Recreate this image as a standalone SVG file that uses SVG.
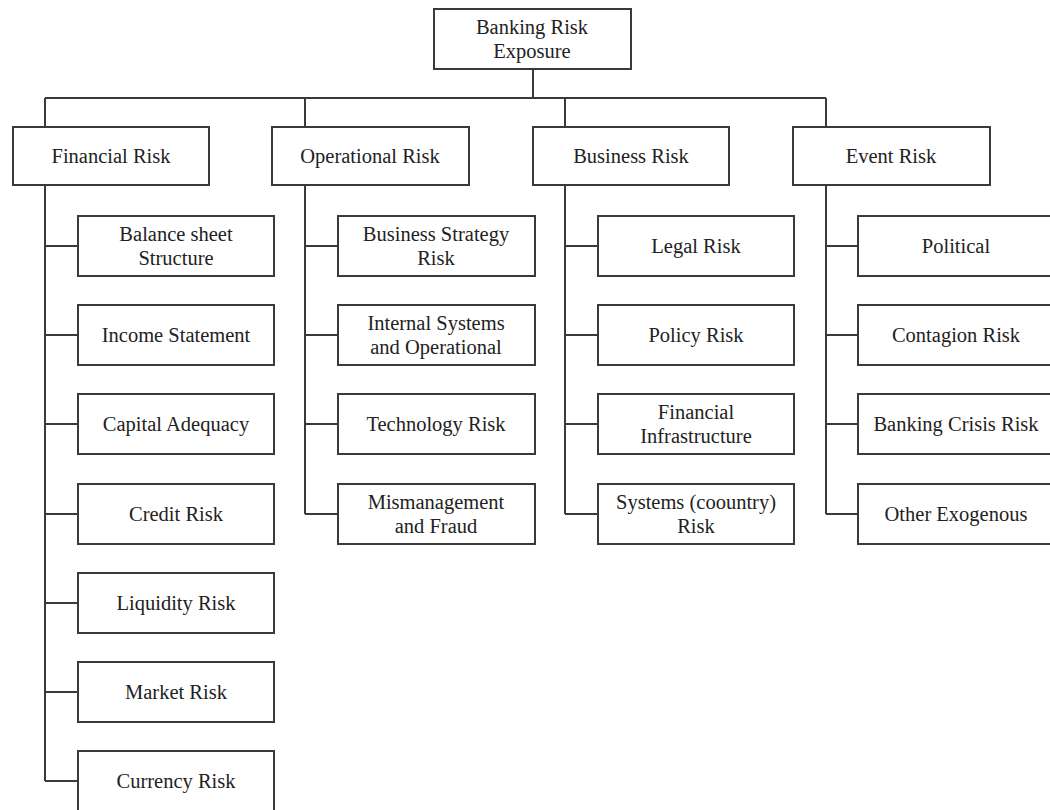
<svg xmlns="http://www.w3.org/2000/svg" width="1050" height="810" viewBox="0 0 1050 810">
<style>
.b{fill:#fff;stroke:#3a3a3a;stroke-width:2}
.c{fill:none;stroke:#3a3a3a;stroke-width:2}
text{font-family:"Liberation Serif","Times New Roman",serif;font-size:20.5px;fill:#222;text-anchor:middle}
</style>
<rect width="1050" height="810" fill="#fff"/>
<g id="connectors" class="c">
<path d="M533,69V98M45,98H826M45,98V127M305,98V127M565,98V127M826,98V127"/>
<path d="M45,185V781M45,246H78M45,335H78M45,424H78M45,514H78M45,603H78M45,692H78M45,781H78"/>
<path d="M305,185V514M305,246H338M305,335H338M305,424H338M305,514H338"/>
<path d="M565,185V514M565,246H598M565,335H598M565,424H598M565,514H598"/>
<path d="M826,185V514M826,246H858M826,335H858M826,424H858M826,514H858"/>
</g>
<g id="root"><rect class="b" x="434" y="9" width="197" height="60"/><text x="532" y="34">Banking Risk</text><text x="532" y="58">Exposure</text></g>
<g id="financial"><rect class="b" x="13" y="127" width="196" height="58"/><text x="111" y="163">Financial Risk</text></g>
<g id="operational"><rect class="b" x="272" y="127" width="197" height="58"/><text x="370" y="163">Operational Risk</text></g>
<g id="business"><rect class="b" x="533" y="127" width="196" height="58"/><text x="631" y="163">Business Risk</text></g>
<g id="event"><rect class="b" x="793" y="127" width="197" height="58"/><text x="891" y="163">Event Risk</text></g>
<g id="f1"><rect class="b" x="78" y="216" width="196" height="60"/><text x="176" y="241">Balance sheet</text><text x="176" y="265">Structure</text></g>
<g id="f2"><rect class="b" x="78" y="305" width="196" height="60"/><text x="176" y="342">Income Statement</text></g>
<g id="f3"><rect class="b" x="78" y="394" width="196" height="60"/><text x="176" y="431">Capital Adequacy</text></g>
<g id="f4"><rect class="b" x="78" y="484" width="196" height="60"/><text x="176" y="521">Credit Risk</text></g>
<g id="f5"><rect class="b" x="78" y="573" width="196" height="60"/><text x="176" y="610">Liquidity Risk</text></g>
<g id="f6"><rect class="b" x="78" y="662" width="196" height="60"/><text x="176" y="699">Market Risk</text></g>
<g id="f7"><rect class="b" x="78" y="751" width="196" height="60"/><text x="176" y="788">Currency Risk</text></g>
<g id="o1"><rect class="b" x="338" y="216" width="197" height="60"/><text x="436" y="241">Business Strategy</text><text x="436" y="265">Risk</text></g>
<g id="o2"><rect class="b" x="338" y="305" width="197" height="60"/><text x="436" y="330">Internal Systems</text><text x="436" y="354">and Operational</text></g>
<g id="o3"><rect class="b" x="338" y="394" width="197" height="60"/><text x="436" y="431">Technology Risk</text></g>
<g id="o4"><rect class="b" x="338" y="484" width="197" height="60"/><text x="436" y="509">Mismanagement</text><text x="436" y="533">and Fraud</text></g>
<g id="b1"><rect class="b" x="598" y="216" width="196" height="60"/><text x="696" y="253">Legal Risk</text></g>
<g id="b2"><rect class="b" x="598" y="305" width="196" height="60"/><text x="696" y="342">Policy Risk</text></g>
<g id="b3"><rect class="b" x="598" y="394" width="196" height="60"/><text x="696" y="419">Financial</text><text x="696" y="443">Infrastructure</text></g>
<g id="b4"><rect class="b" x="598" y="484" width="196" height="60"/><text x="696" y="509">Systems (coountry)</text><text x="696" y="533">Risk</text></g>
<g id="e1"><rect class="b" x="858" y="216" width="196" height="60"/><text x="956" y="253">Political</text></g>
<g id="e2"><rect class="b" x="858" y="305" width="196" height="60"/><text x="956" y="342">Contagion Risk</text></g>
<g id="e3"><rect class="b" x="858" y="394" width="196" height="60"/><text x="956" y="431">Banking Crisis Risk</text></g>
<g id="e4"><rect class="b" x="858" y="484" width="196" height="60"/><text x="956" y="521">Other Exogenous</text></g>
</svg>
